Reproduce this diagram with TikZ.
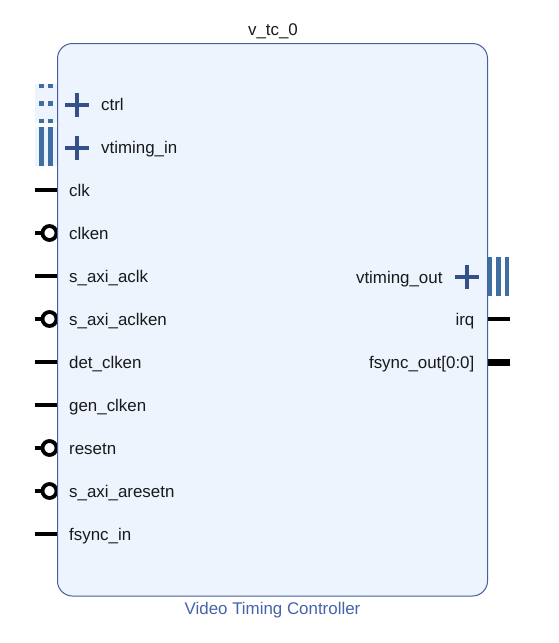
\documentclass[tikz,border=0pt]{standalone}
\usepackage{fontspec}
\setmainfont{Liberation Sans}
\definecolor{bodyfill}{HTML}{EDF4FE}
\definecolor{bodyline}{HTML}{41609F}
\definecolor{busblue}{HTML}{3F6EA3}
\definecolor{plusblue}{HTML}{34508A}
\definecolor{titleblue}{HTML}{4463AB}
\tikzset{
  pinlabel/.style={font=\fontsize{16.9}{18}\selectfont,text=black!90,inner sep=0pt},
  pinline/.style={line width=4.3pt},
  plusline/.style={line width=4pt,plusblue},
  busbar/.style={fill=busblue,draw=none},
  buspad/.style={fill=bodyfill,draw=none}
}
\begin{document}
\begin{tikzpicture}[x=1pt,y=-1pt]
  \useasboundingbox (0,0) rectangle (559,643);
  % interface strips on the left
  \fill[buspad] (35,84) rectangle (57,122.7);
  \fill[buspad] (35,127) rectangle (57,166);
  \foreach \x in {39,48} {
    \fill[busbar] (\x,84) rectangle ++(5,3.7);
    \fill[busbar] (\x,101.3) rectangle ++(5,4.7);
    \fill[busbar] (\x,119) rectangle ++(5,4);
    \fill[busbar] (\x,127) rectangle ++(5,39);
  }
  % plain pins
  \foreach \py in {190,276,362,405,534} {
    \coordinate (pinend\py) at (35,\py);
    \coordinate (pinroot\py) at (57.5,\py);
    \draw[pinline] (pinend\py) -- (pinroot\py);
  }
  % active low pins
  \foreach \py in {233,319,448,491} {
    \coordinate (pinend\py) at (35,\py);
    \node[circle,draw,line width=3.8pt,minimum size=14pt,inner sep=0pt] (bubble\py) at (49.5,\py) {};
    \draw[pinline] (pinend\py) -- (bubble\py.west);
  }
  % interface strips on the right
  \foreach \x in {487.5,496,504.5}
    \fill[busbar] (\x,257) rectangle ++(4.6,38.7);
  \coordinate (irqroot) at (487.5,319);
  \coordinate (irqend) at (510,319);
  \draw[pinline] (irqroot) -- (irqend);
  \coordinate (fsyncroot) at (487.5,362.3);
  \coordinate (fsyncend) at (510,362.3);
  \draw[line width=7.2pt] (fsyncroot) -- (fsyncend);
  % block
  \node[draw=bodyline,fill=bodyfill,line width=1pt,rounded corners=15pt,minimum width=430pt,minimum height=552.5pt,inner sep=0pt] (vtcbody) at (272.5,319.75) {};
  \node[pinlabel,anchor=base] (vtcname) at (273,35) {v\_tc\_0};
  \node[pinlabel,anchor=base,text=titleblue] (vtctype) at (272.5,614) {Video Timing Controller};
  % labels
  \foreach \py/\lbl in {190/clk,233/clken,276/s\_axi\_aclk,319/s\_axi\_aclken,362/det\_clken,405/gen\_clken,448/resetn,491/s\_axi\_aresetn,534/fsync\_in}
    \node[pinlabel,anchor=base west] (leftlabel\py) at (69,\py+6) {\lbl};
  \foreach \py/\lbl in {104.7/ctrl,148/vtiming\_in} {
    \draw[plusline] (65,\py) -- (89,\py);
    \draw[plusline] (77,\py-12) -- (77,\py+12);
    \node[pinlabel,anchor=base west] at (101,\py+5.5) {\lbl};
  }
  \draw[plusline] (455,277) -- (479,277);
  \draw[plusline] (467,265) -- (467,289);
  \node[pinlabel,anchor=base east] (vtimingout) at (442.7,283) {vtiming\_out};
  \node[pinlabel,anchor=base east] (irqlabel) at (474.5,325) {irq};
  \node[pinlabel,anchor=base east] (fsynclabel) at (474.5,368) {fsync\_out[0:0]};
\end{tikzpicture}
\end{document}
